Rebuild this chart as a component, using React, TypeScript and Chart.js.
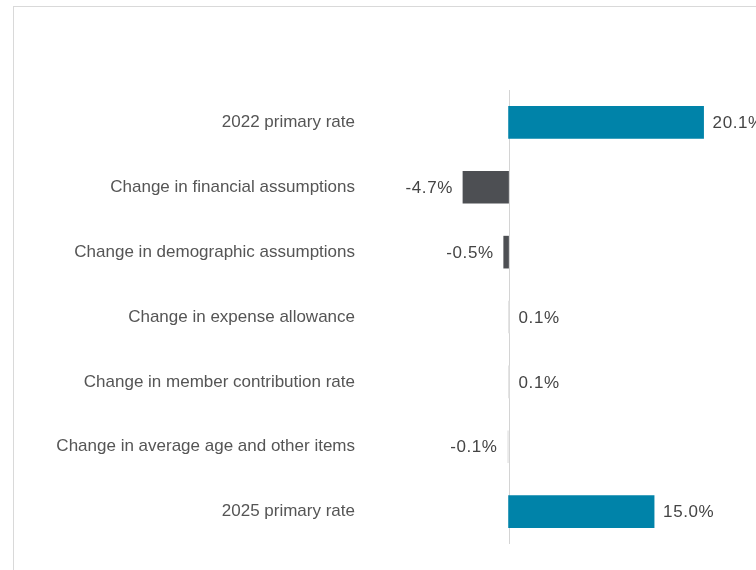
import React, { useEffect, useRef } from "react";
import { Chart, registerables } from "chart.js";

Chart.register(...registerables);

const categories = [
  "2022 primary rate",
  "Change in financial assumptions",
  "Change in demographic assumptions",
  "Change in expense allowance",
  "Change in member contribution rate",
  "Change in average age and other items",
  "2025 primary rate",
];
const values = [20.1, -4.7, -0.5, 0.1, 0.1, -0.1, 15.0];
const valueLabels = ["20.1%", "-4.7%", "-0.5%", "0.1%", "0.1%", "-0.1%", "15.0%"];
const barColors = ["#0083a9", "#4d4f53", "#4d4f53", "#dcdcdc", "#dcdcdc", "#e8e8e8", "#0083a9"];

const FONT = "'Liberation Sans', Arial, Helvetica, sans-serif";

const zeroLinePlugin = {
  id: "zeroLine",
  beforeDatasetsDraw(chart: any) {
    const { ctx, chartArea, scales } = chart;
    const x = Math.round(scales.x.getPixelForValue(0)) + 0.5;
    ctx.save();
    ctx.strokeStyle = "#d4d4d4";
    ctx.lineWidth = 1;
    ctx.beginPath();
    ctx.moveTo(x, chartArea.top);
    ctx.lineTo(x, chartArea.bottom);
    ctx.stroke();
    ctx.restore();
  },
};

const valueLabelPlugin = {
  id: "valueLabels",
  afterDatasetsDraw(chart: any) {
    const { ctx } = chart;
    const meta = chart.getDatasetMeta(0);
    ctx.save();
    ctx.font = `17px ${FONT}`;
    try {
      (ctx as any).letterSpacing = "0.6px";
    } catch (e) {}
    ctx.fillStyle = "#444444";
    ctx.textBaseline = "middle";
    meta.data.forEach((bar: any, i: number) => {
      const v = values[i];
      if (v >= 0) {
        ctx.textAlign = "left";
        ctx.fillText(valueLabels[i], bar.x + 9, bar.y + 1);
      } else {
        ctx.textAlign = "right";
        ctx.fillText(valueLabels[i], bar.x - 10, bar.y + 1);
      }
    });
    ctx.restore();
  },
};

export default function App() {
  const canvasRef = useRef<HTMLCanvasElement | null>(null);

  useEffect(() => {
    if (!canvasRef.current) return;
    const chart = new Chart(canvasRef.current, {
      type: "bar",
      data: {
        labels: categories,
        datasets: [
          {
            data: values,
            backgroundColor: barColors,
            borderWidth: 0,
            barThickness: 32,
          },
        ],
      },
      options: {
        indexAxis: "y",
        animation: false,
        responsive: true,
        maintainAspectRatio: false,
        layout: { padding: { top: 83, bottom: 26, left: 0, right: 0 } },
        plugins: {
          legend: { display: false },
          tooltip: { enabled: false },
        },
        scales: {
          x: {
            display: false,
            min: -15,
            max: 25.5,
          },
          y: {
            grid: { display: false, drawTicks: false },
            border: { display: false },
            ticks: {
              color: "#555555",
              font: { size: 17, family: FONT },
              padding: 8,
            },
            afterFit(axis: any) {
              axis.width = 349;
            },
          },
        },
      },
      plugins: [zeroLinePlugin, valueLabelPlugin],
    });
    return () => chart.destroy();
  }, []);

  return (
    <div
      style={{
        position: "absolute",
        left: 13,
        top: 6,
        width: 743,
        height: 564,
        borderTop: "1px solid #d9d9d9",
        borderLeft: "1px solid #d9d9d9",
        boxSizing: "border-box",
        overflow: "hidden",
        background: "#fff",
      }}
    >
      <div style={{ position: "relative", width: 742, height: 563 }}>
        <canvas ref={canvasRef} />
      </div>
    </div>
  );
}
